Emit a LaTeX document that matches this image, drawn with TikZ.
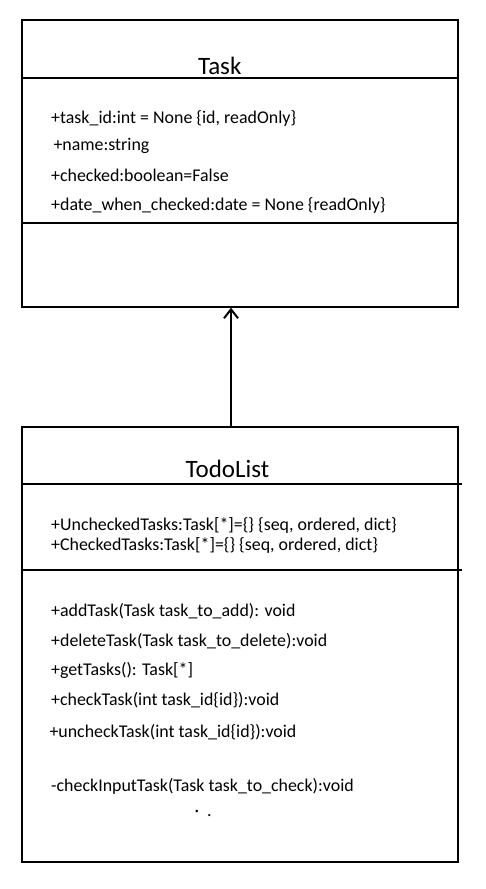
\documentclass[tikz,border=0pt]{standalone}
\usepackage{fontspec}
\setmainfont{Carlito}
\usetikzlibrary{arrows.meta}
\begin{document}
\begin{tikzpicture}[x=1pt,y=-1pt,
  box/.style={draw,line width=2pt,rectangle,inner sep=0pt},
  sep/.style={line width=2pt},
  title/.style={anchor=base,inner sep=0pt,font=\fontsize{25}{28}\selectfont},
  item/.style={anchor=base west,inner sep=0pt,font=\fontsize{17.9}{20}\selectfont},
  inherit/.style={line width=2pt,-{Straight Barb[length=9pt,width=14pt,line width=2pt]}}]
\useasboundingbox (0,0) rectangle (486,889);
% Task class
\node[box,minimum width=436pt,minimum height=286.7pt] (task) at (239.7,163.3) {};
\draw[sep] (21.7,78.3) coordinate (t1a) -- (457.7,78.3) coordinate (t1b);
\draw[sep] (21.7,223.3) coordinate (t2a) -- (457.7,223.3) coordinate (t2b);
\node[title] (tasktitle) at (219.7,74) {Task};
\node[item] (a1) at (51,123) {+task\_id:int = None \{id, readOnly\}};
\node[item] (a2) at (53.3,150.7) {+name:string};
\node[item] (a3) at (51,181) {+checked:boolean=False};
\node[item] (a4) at (51,210) {+date\_when\_checked:date = None \{readOnly\}};
% TodoList class
\node[box,minimum width=436pt,minimum height=435pt] (todo) at (239.7,644.2) {};
\draw[sep] (21.7,484) coordinate (d1a) -- (461.7,484) coordinate (d1b);
\draw[sep] (21.7,570) coordinate (d2a) -- (461.7,570) coordinate (d2b);
\node[title] (todotitle) at (227.5,477.7) {TodoList};
\node[item] (b1) at (51,530) {+UncheckedTasks:Task[*]=\{\} \{seq, ordered, dict\}};
\node[item] (b2) at (51,550.7) {+CheckedTasks:Task[*]=\{\} \{seq, ordered, dict\}};
\node[item] (m1) at (51,616.7) {+addTask(Task task\_to\_add): void};
\node[item] (m2) at (51,646) {+deleteTask(Task task\_to\_delete):void};
\node[item] (m3) at (51,675.3) {+getTasks(): Task[*]};
\node[item] (m4) at (51,705) {+checkTask(int task\_id\{id\}):void};
\node[item] (m5) at (49.3,737.7) {+uncheckTask(int task\_id\{id\}):void};
\node[item] (m6) at (51,791) {-checkInputTask(Task task\_to\_check):void};
\node[item] (dots) at (194.5,816) {·\hspace{8pt}.};
% inheritance arrow
\coordinate (ax) at (231,0);
\draw[inherit] (todo.north -| ax) -- (task.south -| ax);
\end{tikzpicture}
\end{document}
